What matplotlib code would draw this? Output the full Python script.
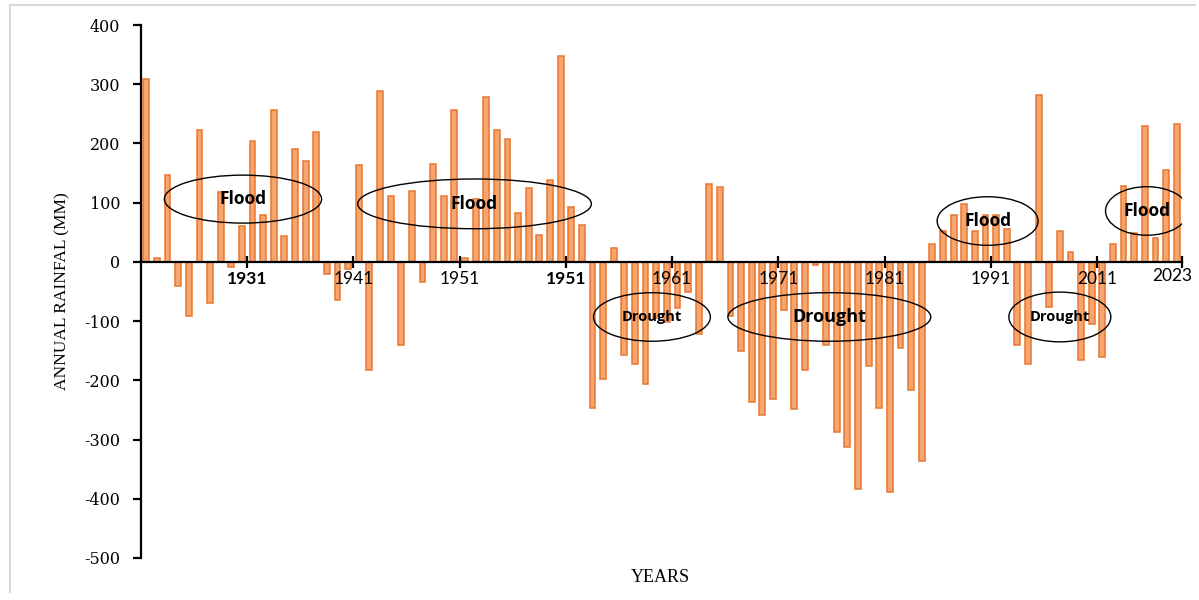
import matplotlib
matplotlib.use("Agg")
import matplotlib.pyplot as plt
from matplotlib.patches import Ellipse
from matplotlib.lines import Line2D
import numpy as np

# ---- data (annual rainfall anomaly, mm) ----
rainfall = [309, 6, 146, -40, -92, 222, -70, 118, -9, 60,
            204, 79, 257, 44, 191, 171, 219, -21, -64, -12,
            163, -182, 288, 112, -140, 120, -34, 166, 111, 256,
            6, 107, 278, 222, 208, 82, 124, 45, 139, 348,
            93, 62, -246, -197, 23, -158, -173, -206, -95, -102,
            -78, -50, -121, 131, 127, -91, -151, -236, -258, -231,
            -82, -248, -183, -6, -140, -287, -312, -384, -175, -247,
            -388, -145, -216, -337, 30, 52, 80, 97, 52, 80,
            80, 56, -140, -173, 282, -76, 52, 17, -166, -105,
            -161, 30, 128, 49, 229, 40, 156, 232]
tick_labels = ['1931', '1941', '1951', '1951', '1961', '1971', '1981', '1991', '2011', '2023']
y_ticks = [400, 300, 200, 100, 0, -100, -200, -300, -400, -500]

# annotations: (label, center_index, center_value, width_idx, height_val, fontsize)
annotations = [
    ("Flood", 9.1, 106, 14.8, 81, 12.5),
    ("Flood", 30.9, 98, 22.0, 84, 12.5),
    ("Drought", 47.6, -93, 11.0, 82, 10.5),
    ("Drought", 64.3, -93, 19.1, 82, 13),
    ("Flood", 79.2, 69, 9.5, 82, 12.5),
    ("Drought", 86.0, -93, 9.6, 84, 10.5),
    ("Flood", 94.2, 86, 7.8, 82, 12.5),
]

x = np.arange(len(rainfall))

fig = plt.figure(figsize=(11.99, 6.0), dpi=100)
fig.lines.append(Line2D([10/1199, 10/1199], [8/600, 595/600], transform=fig.transFigure,
                        color='#d8d8d8', linewidth=1.5))
fig.lines.append(Line2D([10/1199, 1195/1199], [595/600, 595/600], transform=fig.transFigure,
                        color='#d8d8d8', linewidth=1.5))
ax = fig.add_axes([141/1199, 1 - 558/600, (1182 - 141)/1199, (558 - 25)/600])
ax.set_axisbelow(False)

ax.bar(x, rainfall, width=0.55, color='#F6A56C', edgecolor='#E9772F', linewidth=1.1, zorder=2)

ax.set_xlim(-0.5, len(rainfall) - 0.5)
ax.set_ylim(-500, 400)

for s in ['top', 'right']:
    ax.spines[s].set_visible(False)
ax.spines['bottom'].set_position(('data', 0))
ax.spines['bottom'].set_linewidth(1.6)
ax.spines['left'].set_linewidth(1.6)
ax.spines['bottom'].set_zorder(3)
ax.xaxis.set_zorder(4)
ax.yaxis.set_zorder(4)

tick_pos = [9.5, 19.5, 29.5, 39.5, 49.5, 59.5, 69.5, 79.5, 89.5, len(rainfall) - 0.5]
ax.set_xticks(tick_pos)
ax.set_xticklabels(tick_labels[:-1] + [''], fontsize=12.5, family='Lato')
xlabels = ax.get_xticklabels()
for i, lab in enumerate(xlabels):
    if i in (0, 3):
        lab.set_fontweight('bold')
ax.tick_params(axis='x', direction='inout', length=9, width=1.6, pad=2)
# last label sits slightly left of its tick so that it stays inside the figure
ax.annotate(tick_labels[-1], xy=(tick_pos[-1], 0), xycoords='data',
            xytext=(-10, -6.5), textcoords='offset pixels', ha='center', va='top',
            fontsize=12.5, family='Lato', annotation_clip=False, zorder=6)

ax.set_yticks(y_ticks)
ax.set_yticklabels([str(v) for v in y_ticks], fontsize=11.5, family='DejaVu Serif')
ax.tick_params(axis='y', direction='out', length=6, width=1.6, pad=9)

ax.set_ylabel("ANNUAL RAINFAL (MM)", family='Liberation Serif', fontsize=12.5)
ax.yaxis.set_label_coords(-0.068, 0.50)
ax.set_xlabel("YEARS", family='Liberation Serif', fontsize=13)
ax.xaxis.set_label_coords(0.499, -0.02)

for label, cx, cy, w, h, fs in annotations:
    e = Ellipse((cx, cy), w, h, fill=False, edgecolor='black', linewidth=1.0, zorder=5)
    ax.add_patch(e)
    ax.text(cx, cy, label, ha='center', va='center', fontsize=fs, fontweight='bold',
            family='Open Sans', zorder=6)

fig.savefig("out.png", dpi=100)
